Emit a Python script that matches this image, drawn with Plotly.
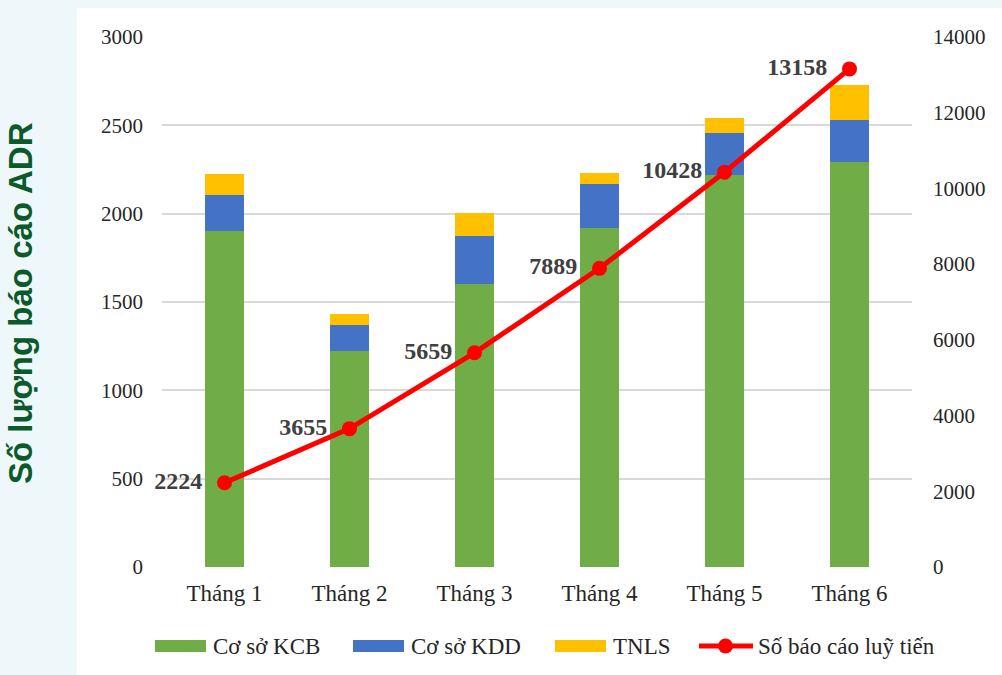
import plotly.graph_objects as go

months = ["Tháng 1", "Tháng 2", "Tháng 3", "Tháng 4", "Tháng 5", "Tháng 6"]
kcb = [1902, 1223, 1602, 1919, 2219, 2294]
kdd = [204, 147, 271, 249, 238, 238]
tnls = [118, 61, 131, 62, 82, 198]
cumulative = [2224, 3655, 5659, 7889, 10428, 13158]

names = ["Cơ sở KCB", "Cơ sở KDD", "TNLS", "Số báo cáo luỹ tiến"]
colors = ["#70ad47", "#4472c4", "#ffc000", "#ff0000"]

W, H = 1002, 675
ML, MR, MT, MB = 162, 90, 37, 108
PW, PH = W - ML - MR, H - MT - MB

def px_x(p):
    return (p - ML) / PW

def px_y(p):
    return (H - MB - p) / PH

serif = "Liberation Serif, Times New Roman, serif"
NB = "\u00a0"

fig = go.Figure()
for vals, nm, col in zip([kcb, kdd, tnls], names[:3], colors[:3]):
    fig.add_trace(go.Bar(x=months, y=vals, name=nm, marker_color=col, marker_line_width=0))
fig.add_trace(go.Scatter(
    x=months, y=cumulative, name=names[3], yaxis="y2",
    mode="lines+markers+text", text=[f"{v}{NB}{NB}" for v in cumulative],
    textposition="middle left", cliponaxis=False,
    textfont=dict(family=serif, size=24, color="#404040", weight="bold"),
    line=dict(color=colors[3], width=5), marker=dict(color=colors[3], size=15),
))

fig.update_layout(
    width=W, height=H,
    margin=dict(l=ML, r=MR, t=MT, b=MB, pad=0),
    paper_bgcolor="#eef8fa", plot_bgcolor="rgba(0,0,0,0)",
    barmode="stack", bargap=0.684,
    font=dict(family=serif, size=21, color="#262626"),
    xaxis=dict(showgrid=False, showline=False, ticks="", ticklabelstandoff=10,
               tickfont=dict(size=23, color="#262626")),
    yaxis=dict(range=[0, 3000], dtick=500, showgrid=True, gridcolor="#d9d9d9", gridwidth=1.5,
               zeroline=False, showline=False, ticks="", ticklabelstandoff=18,
               tickfont=dict(size=21, color="#262626")),
    yaxis2=dict(range=[0, 14000], dtick=2000, tickformat="d", overlaying="y", side="right",
                showgrid=False, zeroline=False, showline=False, ticks="", ticklabelstandoff=20,
                tickfont=dict(size=21, color="#262626")),
    showlegend=False,
)

# white chart card
fig.add_shape(type="rect", xref="paper", yref="paper",
              x0=px_x(77), x1=px_x(W + 5), y0=px_y(H + 5), y1=px_y(8),
              fillcolor="white", line_width=0, layer="below")

# y-axis title
fig.add_annotation(text="<b>Số lượng báo cáo ADR</b>", xref="paper", yref="paper",
                   x=px_x(20), y=px_y(303), textangle=-90, showarrow=False,
                   font=dict(family="Liberation Sans, Arial, sans-serif", size=33, color="#0b5a2b"),
                   xanchor="center", yanchor="middle")

# custom legend
LY = 646
swatch_x = [155, 353, 555]
for sx, nm, col in zip(swatch_x, names[:3], colors[:3]):
    fig.add_shape(type="rect", xref="paper", yref="paper",
                  x0=px_x(sx), x1=px_x(sx + 51), y0=px_y(LY + 6), y1=px_y(LY - 6),
                  fillcolor=col, line_width=0)
    fig.add_annotation(text=nm, xref="paper", yref="paper", x=px_x(sx + 56), y=px_y(LY),
                       xanchor="left", yanchor="middle", showarrow=False,
                       font=dict(family=serif, size=23, color="#262626"))
fig.add_shape(type="line", xref="paper", yref="paper",
              x0=px_x(699), x1=px_x(753), y0=px_y(LY), y1=px_y(LY),
              line=dict(color=colors[3], width=5))
fig.add_shape(type="circle", xref="paper", yref="paper",
              x0=px_x(718), x1=px_x(733), y0=px_y(LY + 7.5), y1=px_y(LY - 7.5),
              fillcolor=colors[3], line_width=0)
fig.add_annotation(text=names[3], xref="paper", yref="paper", x=px_x(756), y=px_y(LY),
                   xanchor="left", yanchor="middle", showarrow=False,
                   font=dict(family=serif, size=23, color="#262626"))

fig.write_html("out.html")
